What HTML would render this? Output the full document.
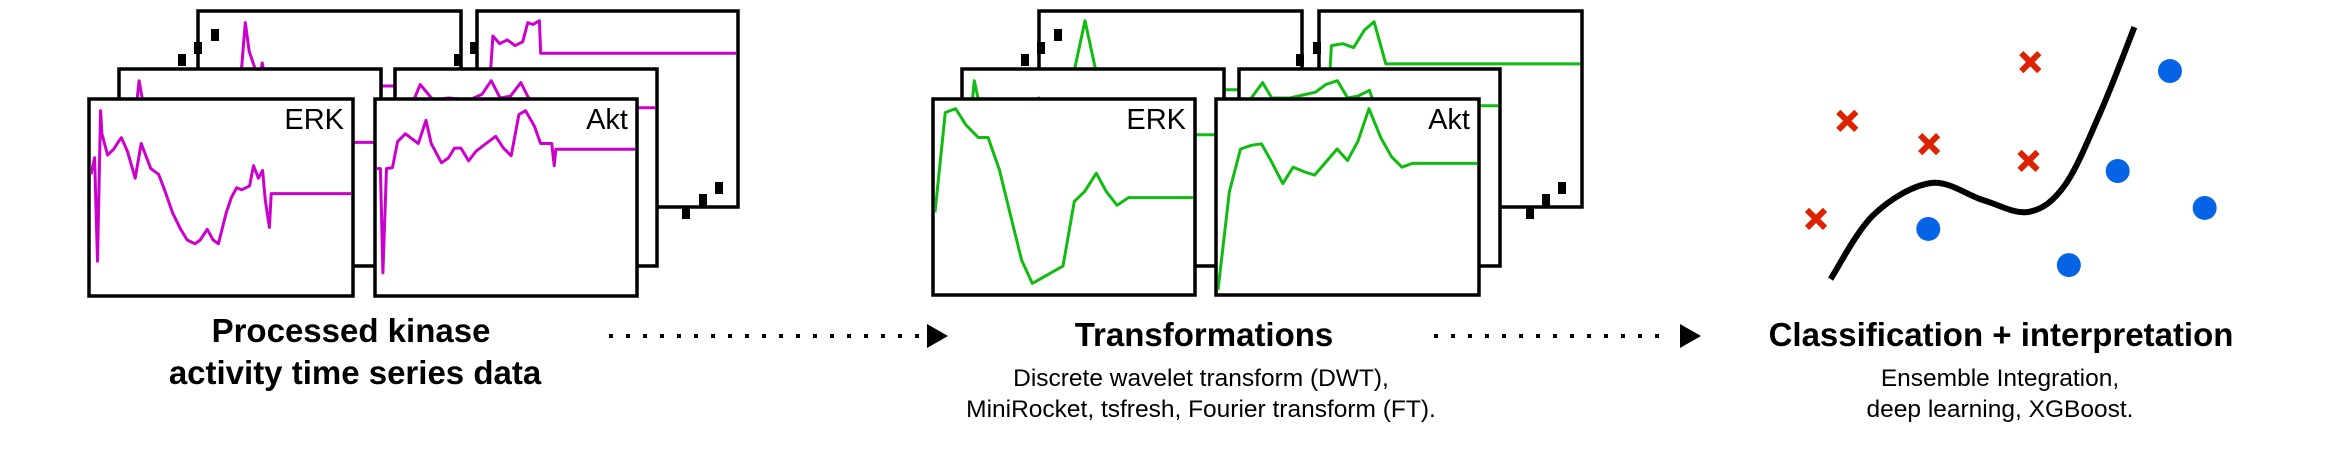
<!DOCTYPE html>
<html><head><meta charset="utf-8">
<style>
html,body{margin:0;padding:0;background:#fff;}
svg{display:block;font-family:"Liberation Sans",sans-serif;}
</style></head>
<body>
<svg id="fig" width="2330" height="475" viewBox="0 0 2330 475" xmlns="http://www.w3.org/2000/svg">
<rect width="2330" height="475" fill="#fff"/>
<g id="panels"></g>
<g id="scatter"></g>
<g id="arrows"></g>

<g font-weight="bold" font-size="33" text-anchor="middle" fill="#000">
<text x="351" y="342">Processed kinase</text>
<text x="355" y="384">activity time series data</text>
</g>
<g text-anchor="middle" fill="#000">
<text x="1204" y="346" font-weight="bold" font-size="33">Transformations</text>
<text x="1201" y="386" font-size="24.5">Discrete wavelet transform (DWT),</text>
<text x="1201" y="417" font-size="24.5">MiniRocket, tsfresh, Fourier transform (FT).</text>
</g>
<g text-anchor="middle" fill="#000">
<text x="2001" y="346" font-weight="bold" font-size="33">Classification + interpretation</text>
<text x="2000" y="386" font-size="24.5">Ensemble Integration,</text>
<text x="2000" y="417" font-size="24.5">deep learning, XGBoost.</text>
</g>
</svg>
<script>
// ---------- Data: raw kinase series (t: 0-100, v: 0-100) ----------
const erkRawT = [0,1.4,2.5,3.7,4.2,6.4,8.7,10.6,11.7,14,17,19.3,21,23,26,28,31.4,34.5,37,40,42,44.7,47,49,52,54,56,58,61,62.5,64.4,66,67,68.6,69.3,100];
const erkRawV = [62,70.6,17,95,83,72,75,79,81,74,60,78,72,65,62,55,42,33.5,28,26,28,33.5,28,26,42,50,55,54,56,66.5,60,64,49,34.5,52,52];
const aktRawT = [0,1.3,2.3,3.7,6,8,11,13,16,19,21,25,27.7,30,32.5,35.5,38.4,42,46,49,52,55,57.6,61,63.4,67,67.7,68.7,69.3,100];
const aktRawV = [65,65,11,65,65.5,79,83,81,78,90,78,68,70.5,75.6,75.6,69,74,77.7,81.7,75.6,71.6,93,95,87,78,78,78,66.5,75,75];
const erkRawMidT = [0,3,5,7,9,11,14,18,25,35,45,55,65,70,100];
const erkRawMidV = [60,80,70,95,80,70,72,68,60,40,35,55,60,63,63];
const aktRawMidT = [0,5,9,14,20,28,33,36.5,40,44,48,51,56,60,100];
const aktRawMidV = [70,80,93,85,86,85,88,95,86,87,94,86,84,81,81];
const erkRawBackT = [0,5,10,14,16,17.5,19,21,23,24,26,30,40,50,60,70,100];
const erkRawBackV = [50,55,60,55,70,95,80,72,65,74,60,55,50,55,60,62,62];
const aktRawBackT = [0,3,5.4,8,11,14,17,19,21,23.5,24,100];
const aktRawBackV = [5,40,88,84,86,83,85,95,94,96,79,79];

// ---------- Data: transformed series ----------
const erkTrT = [0,4,8,12,16.8,20.6,25,29,33.6,37.7,49.6,54,58,62.5,66.4,70.6,75,100];
const erkTrV = [42,94,96,87.5,81,81,64,42,17,5,14,47.7,52.8,62.4,52.8,45.7,49.7,49.7];
const aktTrT = [0,4.4,8.7,13,16.8,20.8,25,29,33.5,37.3,46,50,54,58.3,62.8,67,71,75,100];
const aktTrV = [1.5,52.8,75,77,77.7,68,57,65.5,63,61.4,75,69,79,96,81,71,65.5,67.5,67.5];
const erkTrMidT = [0,4,8,15,22,29,35,45,55,65,100];
const erkTrMidV = [40,95,70,78,80,86,75,40,30,67,67];
const aktTrMidT = [0,4,8.4,12,19,29,33,37.5,41.5,45.5,50,52,100];
const aktTrMidV = [70,86,94,86,86,89,93,95,86,87,90,82,82];
const erkTrBackT = [0,8,13,17,21,28,40,55,70,100];
const erkTrBackV = [40,50,71,96,71,50,40,55,60,60];
const aktTrBackT = [0,3.5,4,8.4,12.6,16.7,20.5,25,100];
const aktTrBackV = [30,71,83,84,82,91,95.4,73.5,73.5];

// ---------- Data: scatter ----------
const redX = [53.6,10.9,30,53.2,3.6];
const redY = [81.4,60.4,52.1,46.1,25.4];
const blueX = [86.2,74,94.3,29.8,62.6];
const blueY = [78.2,42.5,29.3,21.8,8.9];
const boundaryX = [7,17,30.4,42.6,53.2,61.7,70.2,77.9];
const boundaryY = [3.9,26.8,38.2,32.1,27.9,37.5,64.3,93.9];

const NS = 'http://www.w3.org/2000/svg';
function mk(tag, attrs, parent){
  const e = document.createElementNS(NS, tag);
  for (const k in attrs) e.setAttribute(k, attrs[k]);
  parent.appendChild(e);
  return e;
}
const MAG = '#cc00cc', GRN = '#11bb11';
const panelsG = document.getElementById('panels');
let clipId = 0;

function panel(x, y, w, h, label, T, V, color, name){
  const g = mk('g', {}, panelsG);
  
  
  const bg = mk('rect', {x:x, y:y, width:w, height:h, fill:'#fff'}, g);
  
  
  const cid = 'c' + (clipId++);
  const cp = mk('clipPath', {id:cid}, g);
  mk('rect', {x:x+2, y:y+2, width:w-4, height:h-4}, cp);
  const sx = t => x + 2 + t / 100 * (w - 4);
  const sy = v => y + h - 2 - v / 100 * (h - 4);
  let d = '';
  for (let i = 0; i < T.length; i++) d += (i ? 'L' : 'M') + sx(T[i]).toFixed(1) + ',' + sy(V[i]).toFixed(1);
  const line = mk('path', {d:d, fill:'none', stroke:color, 'stroke-width':3, 'stroke-linejoin':'round', 'clip-path':'url(#'+cid+')'}, g);
  
  
  const fr = mk('rect', {x:x, y:y, width:w, height:h, fill:'none', stroke:'#000', 'stroke-width':3.5}, g);
  
  
  if (label){
    const tx = mk('text', {x:x+w-9, y:y+30, 'font-size':29, 'text-anchor':'end', fill:'#000'}, g);
    tx.textContent = label;
    
    
  }
}
function dots(pts, name){
  const g = mk('g', {}, panelsG);
  
  
  pts.forEach(p => mk('rect', {x:p[0]-4, y:p[1]-6, width:8, height:12, fill:'#000'}, g));
}

// Raw stack (back to front)
panel(198, 11, 263, 196, '', erkRawBackT, erkRawBackV, MAG, 'raw-erk-back-panel');
panel(477, 11, 261, 196, '', aktRawBackT, aktRawBackV, MAG, 'raw-akt-back-panel');
dots([[182,60],[198,48],[215,35],[458,60],[474,48]], 'raw-stack-ellipsis-top');
dots([[686,213],[703,200],[719,188]], 'raw-stack-ellipsis-bottom');
panel(119, 69, 262, 197, '', erkRawMidT, erkRawMidV, MAG, 'raw-erk-middle-panel');
panel(395, 69, 262, 197, '', aktRawMidT, aktRawMidV, MAG, 'raw-akt-middle-panel');
panel(89, 99, 264, 197, 'ERK', erkRawT, erkRawV, MAG, 'raw-erk-panel');
panel(375, 99, 262, 197, 'Akt', aktRawT, aktRawV, MAG, 'raw-akt-panel');

// Transformed stack
panel(1039, 11, 263, 196, '', erkTrBackT, erkTrBackV, GRN, 'transformed-erk-back-panel');
panel(1319, 11, 263, 196, '', aktTrBackT, aktTrBackV, GRN, 'transformed-akt-back-panel');
dots([[1025,60],[1041,48],[1058,35],[1300,60],[1317,48]], 'transformed-stack-ellipsis-top');
dots([[1530,213],[1546,200],[1562,188]], 'transformed-stack-ellipsis-bottom');
panel(962, 69, 262, 197, '', erkTrMidT, erkTrMidV, GRN, 'transformed-erk-middle-panel');
panel(1239, 69, 261, 197, '', aktTrMidT, aktTrMidV, GRN, 'transformed-akt-middle-panel');
panel(933, 99, 262, 196, 'ERK', erkTrT, erkTrV, GRN, 'transformed-erk-panel');
panel(1216, 99, 263, 196, 'Akt', aktTrT, aktTrV, GRN, 'transformed-akt-panel');

// Arrows
const arrG = document.getElementById('arrows');
function arrow(x0, x1, y, name){
  const g = mk('g', {}, arrG);
  
  
  for (let x = x0; x < x1 - 8; x += 17) mk('rect', {x:x-2, y:y-2, width:4, height:4, fill:'#000'}, g);
  mk('path', {d:'M'+(x1)+','+(y-12)+'L'+(x1+21)+','+y+'L'+x1+','+(y+12)+'Z', fill:'#000'}, g);
}
arrow(611, 927, 336, 'arrow-raw-to-transform');
arrow(1436, 1680, 336, 'arrow-transform-to-classify');

// Scatter
const scG = document.getElementById('scatter');
const scx = v => 1800.6 + v * 4.285;
const scy = v => 290 - v * 2.8;
let bd = 'M' + scx(boundaryX[0]) + ',' + scy(boundaryY[0]);
for (let i = 0; i < boundaryX.length - 1; i++){
  const p0 = [scx(boundaryX[Math.max(i-1,0)]), scy(boundaryY[Math.max(i-1,0)])];
  const p1 = [scx(boundaryX[i]), scy(boundaryY[i])];
  const p2 = [scx(boundaryX[i+1]), scy(boundaryY[i+1])];
  const p3 = [scx(boundaryX[Math.min(i+2,boundaryX.length-1)]), scy(boundaryY[Math.min(i+2,boundaryX.length-1)])];
  const c1 = [p1[0]+(p2[0]-p0[0])/6, p1[1]+(p2[1]-p0[1])/6];
  const c2 = [p2[0]-(p3[0]-p1[0])/6, p2[1]-(p3[1]-p1[1])/6];
  bd += 'C' + c1.map(n=>n.toFixed(1)).join(',') + ' ' + c2.map(n=>n.toFixed(1)).join(',') + ' ' + p2.map(n=>n.toFixed(1)).join(',');
}
const bnd = mk('path', {d:bd, fill:'none', stroke:'#000', 'stroke-width':6}, scG);


for (let i = 0; i < redX.length; i++){
  const cx = scx(redX[i]), cy = scy(redY[i]);
  const m = mk('path', {d:'M'+(cx-9)+','+(cy-9)+'L'+(cx+9)+','+(cy+9)+'M'+(cx+9)+','+(cy-9)+'L'+(cx-9)+','+(cy+9), stroke:'#dd2200', 'stroke-width':6, fill:'none'}, scG);
  
  
}
for (let i = 0; i < blueX.length; i++){
  const c = mk('circle', {cx:scx(blueX[i]), cy:scy(blueY[i]), r:12, fill:'#0563e6'}, scG);
  
  
}
</script>
</body></html>
